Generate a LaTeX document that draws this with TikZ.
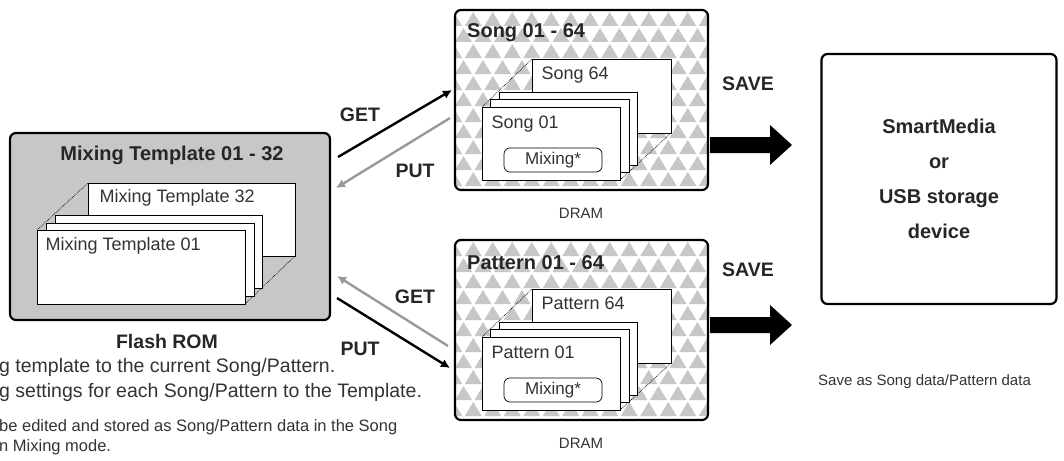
\documentclass[tikz,border=0pt]{standalone}
\usepackage{fontspec}
\setmainfont{Liberation Sans}
\usetikzlibrary{arrows.meta}
\begin{document}
\begin{tikzpicture}[x=1pt,y=-1pt,
  outer/.style={draw=black,line width=2.2pt,rounded corners=6pt},
  card/.style={draw=black,fill=white,line width=0.7pt},
  cardtxt/.style={anchor=north west,font=\fontsize{18}{20}\selectfont,text=black!80},
  title/.style={font=\bfseries\fontsize{20}{22}\selectfont,text=black!85},
  lbl/.style={font=\bfseries\fontsize{19.5}{22}\selectfont,text=black!85},
  captxt/.style={font=\fontsize{15}{17}\selectfont,text=black!80},
  blk/.style={draw=black,line width=2.4pt,-{Latex[length=9pt,width=9pt]}},
  gry/.style={draw=black!40,line width=2.4pt,-{Latex[length=9pt,width=9pt]}},
  dot/.style={densely dotted,line width=0.7pt}]
\useasboundingbox (0,0) rectangle (1064,460);
% ---------- Flash ROM box
\node[outer,fill=black!22,minimum width=320pt,minimum height=187pt,inner sep=0pt] (rom) at (170,226.5) {};
\node[title] (romt) at (172,155) {Mixing Template 01 - 32};
\draw[dot] (37,230) -- (88,183);
\draw[dot] (245,304) -- (295,256);
\draw[card] (88,183) rectangle (295,256);
\node[cardtxt] (m32) at (96,186) {Mixing Template 32};
\draw[card] (55,215) rectangle (262,288);
\draw[card] (46,223) rectangle (254,296);
\draw[card] (37,230) rectangle (245,304);
\node[cardtxt] (m01) at (42,234) {Mixing Template 01};
\node[lbl] (fr) at (167,342) {Flash ROM};
% ---------- DRAM boxes
\foreach \dy/\nm/\ttl/\ca/\cb in {0/s/Song 01 - 64/Song 64/Song 01, 230/p/Pattern 01 - 64/Pattern 64/Pattern 01}{
  \begin{scope}[yshift=-\dy]
  \begin{scope}
    \clip[rounded corners=6pt] (455,10) rectangle (708,190);
    \fill[white] (455,10) rectangle (708,190);
    \foreach \r in {0,...,11}{
      \foreach \c in {0,...,14}{
        \pgfmathsetmacro{\xo}{455+\c*19.5+mod(\r,2)*9.75-9.75}
        \pgfmathsetmacro{\yo}{12+\r*16}
        \fill[black!22] (\xo,\yo+14) -- (\xo+8.5,\yo) -- (\xo+17,\yo+14) -- cycle;
      }}
  \end{scope}
  \draw[outer] (455,10) rectangle (708,190);
  \node[title,anchor=west,inner sep=1pt] at (466,33) {\ttl};
  \draw[dot] (482,107) -- (532,59);
  \draw[dot] (620,180) -- (671,133);
  \draw[card] (532,59) rectangle (671,133);
  \node[cardtxt] at (538,63) {\ca};
  \draw[card] (499,92) rectangle (637,165);
  \draw[card] (490,99) rectangle (629,172);
  \draw[card] (482,107) rectangle (620,180);
  \node[cardtxt] at (488,112) {\cb};
  \node[draw=black,line width=0.7pt,rounded corners=6pt,minimum width=98pt,minimum height=24pt,inner sep=1pt,font=\fontsize{17}{19}\selectfont,text=black!80] at (553,160) {Mixing*};
  \node[captxt] at (581,213) {DRAM};
  \end{scope}
}
% ---------- storage box
\node[outer,draw=black,line width=2.2pt,minimum width=235pt,minimum height=250pt,inner sep=0pt,align=center,font=\bfseries\fontsize{20}{35}\selectfont,text=black!85] (sm) at (939,179) {SmartMedia\\or\\USB storage\\device};
\node[captxt,anchor=west,inner sep=0pt] (saveas) at (818,382) {Save as Song data/Pattern data};
% ---------- SAVE arrows
\fill (710,137) -- (770,137) -- (770,125) -- (792,145) -- (770,165) -- (770,153) -- (710,153) -- cycle;
\fill (710,317) -- (770,317) -- (770,305) -- (792,325) -- (770,345) -- (770,333) -- (710,333) -- cycle;
\node[lbl] (sv1) at (748,84) {SAVE};
\node[lbl] (sv2) at (748,270) {SAVE};
% ---------- GET/PUT
\coordinate (g1a) at (338,157); \coordinate (g1b) at (452,90);
\coordinate (p1a) at (450,118); \coordinate (p1b) at (336,188);
\coordinate (g2a) at (448,346); \coordinate (g2b) at (337,276);
\coordinate (p2a) at (337,298); \coordinate (p2b) at (450,368);
\draw[blk] (g1a) -- (g1b);
\draw[gry] (p1a) -- (p1b);
\draw[gry] (g2a) -- (g2b);
\draw[blk] (p2a) -- (p2b);
\node[lbl] at (360,115) {GET};
\node[lbl] at (415,171) {PUT};
\node[lbl] at (415,297) {GET};
\node[lbl] at (360,349) {PUT};
% ---------- bottom notes
\node[font=\fontsize{19.5}{22}\selectfont,text=black!80,anchor=west,inner sep=0pt] at (-1,367) {g template to the current Song/Pattern.};
\node[font=\fontsize{19.5}{22}\selectfont,text=black!80,anchor=west,inner sep=0pt] at (-1,392) {g settings for each Song/Pattern to the Template.};
\node[font=\fontsize{16.5}{19}\selectfont,text=black!80,anchor=west,inner sep=0pt] at (-1,427) {be edited and stored as Song/Pattern data in the Song};
\node[font=\fontsize{16.5}{19}\selectfont,text=black!80,anchor=west,inner sep=0pt] at (-1,447) {n Mixing mode.};
\end{tikzpicture}
\end{document}
